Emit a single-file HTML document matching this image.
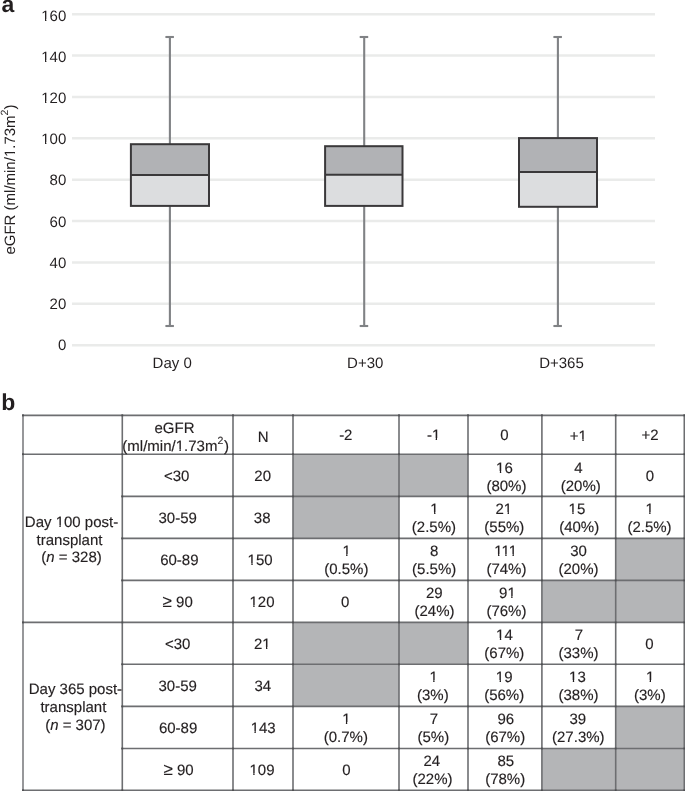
<!DOCTYPE html>
<html><head><meta charset="utf-8"><style>
html,body{margin:0;padding:0;background:#fff;}
svg{display:block;will-change:transform;text-rendering:geometricPrecision;}
text{font-family:"Liberation Sans",sans-serif;fill:#231f20;}
.tb text{stroke:#231f20;stroke-width:0.15px;}
</style></head><body>
<svg width="685" height="791" viewBox="0 0 685 791">
<rect width="685" height="791" fill="#fff"/>
<text x="1.5" y="11.8" font-size="23" font-weight="bold">a</text>
<line x1="72" y1="14.20" x2="655" y2="14.20" stroke="#eaebea" stroke-width="2.5"/>
<text x="66.3" y="20.55" font-size="15" text-anchor="end">160</text><rect x="42.00" y="19.00" width="3.02" height="3.00" fill="#fff"/><rect x="46.39" y="19.00" width="2.61" height="3.00" fill="#fff"/>
<line x1="72" y1="55.58" x2="655" y2="55.58" stroke="#eaebea" stroke-width="2.5"/>
<text x="66.3" y="61.78" font-size="15" text-anchor="end">140</text><rect x="42.00" y="60.00" width="3.02" height="3.00" fill="#fff"/><rect x="46.39" y="60.00" width="2.61" height="3.00" fill="#fff"/>
<line x1="72" y1="96.95" x2="655" y2="96.95" stroke="#eaebea" stroke-width="2.5"/>
<text x="66.3" y="103.00" font-size="15" text-anchor="end">120</text><rect x="42.00" y="101.00" width="3.02" height="3.00" fill="#fff"/><rect x="46.39" y="101.00" width="2.61" height="3.00" fill="#fff"/>
<line x1="72" y1="138.32" x2="655" y2="138.32" stroke="#eaebea" stroke-width="2.5"/>
<text x="66.3" y="144.23" font-size="15" text-anchor="end">100</text><rect x="42.00" y="142.00" width="3.02" height="3.00" fill="#fff"/><rect x="46.39" y="142.00" width="2.61" height="3.00" fill="#fff"/>
<line x1="72" y1="179.70" x2="655" y2="179.70" stroke="#eaebea" stroke-width="2.5"/>
<text x="66.3" y="185.45" font-size="15" text-anchor="end">80</text>
<line x1="72" y1="221.07" x2="655" y2="221.07" stroke="#eaebea" stroke-width="2.5"/>
<text x="66.3" y="226.68" font-size="15" text-anchor="end">60</text>
<line x1="72" y1="262.45" x2="655" y2="262.45" stroke="#eaebea" stroke-width="2.5"/>
<text x="66.3" y="267.90" font-size="15" text-anchor="end">40</text>
<line x1="72" y1="303.82" x2="655" y2="303.82" stroke="#eaebea" stroke-width="2.5"/>
<text x="66.3" y="309.12" font-size="15" text-anchor="end">20</text>
<line x1="72" y1="345.20" x2="655" y2="345.20" stroke="#eaebea" stroke-width="2.5"/>
<text x="66.3" y="350.35" font-size="15" text-anchor="end">0</text>
<g transform="translate(15.2,179.6) rotate(-90)"><text x="0" y="0" font-size="15" text-anchor="middle">eGFR (ml/min/1.73m<tspan font-size="10.5" dy="-7.3">2</tspan><tspan dy="7.3">)</tspan></text><rect x="23.00" y="-2.00" width="3.23" height="3.00" fill="#fff"/><rect x="27.59" y="-2.00" width="3.41" height="3.00" fill="#fff"/></g>
<line x1="169.9" y1="37" x2="169.9" y2="144.2" stroke="#808285" stroke-width="2.1"/>
<line x1="169.9" y1="205.9" x2="169.9" y2="326" stroke="#808285" stroke-width="2.1"/>
<line x1="165.4" y1="37" x2="173.9" y2="37" stroke="#808285" stroke-width="2.1"/>
<line x1="165.4" y1="326" x2="173.9" y2="326" stroke="#808285" stroke-width="2.1"/>
<rect x="130.9" y="144.2" width="78.10" height="30.90" fill="#b1b2b5"/>
<rect x="130.9" y="175.1" width="78.10" height="30.80" fill="#dcdddf"/>
<rect x="130.9" y="144.2" width="78.10" height="61.70" fill="none" stroke="#3a383a" stroke-width="2"/>
<line x1="130.9" y1="175.1" x2="209.0" y2="175.1" stroke="#3a383a" stroke-width="2"/>
<line x1="364.2" y1="37" x2="364.2" y2="146.2" stroke="#808285" stroke-width="2.1"/>
<line x1="364.2" y1="205.9" x2="364.2" y2="326" stroke="#808285" stroke-width="2.1"/>
<line x1="359.7" y1="37" x2="368.2" y2="37" stroke="#808285" stroke-width="2.1"/>
<line x1="359.7" y1="326" x2="368.2" y2="326" stroke="#808285" stroke-width="2.1"/>
<rect x="325.1" y="146.2" width="77.40" height="28.50" fill="#b1b2b5"/>
<rect x="325.1" y="174.7" width="77.40" height="31.20" fill="#dcdddf"/>
<rect x="325.1" y="146.2" width="77.40" height="59.70" fill="none" stroke="#3a383a" stroke-width="2"/>
<line x1="325.1" y1="174.7" x2="402.5" y2="174.7" stroke="#3a383a" stroke-width="2"/>
<line x1="557.9" y1="37" x2="557.9" y2="138.1" stroke="#808285" stroke-width="2.1"/>
<line x1="557.9" y1="206.8" x2="557.9" y2="326" stroke="#808285" stroke-width="2.1"/>
<line x1="553.4" y1="37" x2="561.9" y2="37" stroke="#808285" stroke-width="2.1"/>
<line x1="553.4" y1="326" x2="561.9" y2="326" stroke="#808285" stroke-width="2.1"/>
<rect x="519.0" y="138.1" width="78.00" height="33.80" fill="#b1b2b5"/>
<rect x="519.0" y="171.9" width="78.00" height="34.90" fill="#dcdddf"/>
<rect x="519.0" y="138.1" width="78.00" height="68.70" fill="none" stroke="#3a383a" stroke-width="2"/>
<line x1="519.0" y1="171.9" x2="597.0" y2="171.9" stroke="#3a383a" stroke-width="2"/>
<text x="172.2" y="367.5" font-size="15" text-anchor="middle">Day 0</text>
<text x="365.2" y="367.5" font-size="15" text-anchor="middle">D+30</text>
<text x="561.5" y="367.5" font-size="15" text-anchor="middle">D+365</text>
<text x="1.3" y="410.3" font-size="23" font-weight="bold">b</text>
<rect x="293.0" y="454.2" width="106.00" height="42.20" fill="#b4b5b7"/>
<rect x="399.0" y="454.2" width="69.00" height="42.20" fill="#b4b5b7"/>
<rect x="293.0" y="496.4" width="106.00" height="42.00" fill="#b4b5b7"/>
<rect x="615.7" y="538.4" width="68.60" height="42.00" fill="#b4b5b7"/>
<rect x="541.9" y="580.4" width="73.80" height="42.00" fill="#b4b5b7"/>
<rect x="615.7" y="580.4" width="68.60" height="42.00" fill="#b4b5b7"/>
<rect x="293.0" y="622.4" width="106.00" height="41.90" fill="#b4b5b7"/>
<rect x="399.0" y="622.4" width="69.00" height="41.90" fill="#b4b5b7"/>
<rect x="293.0" y="664.3" width="106.00" height="42.10" fill="#b4b5b7"/>
<rect x="615.7" y="706.4" width="68.60" height="42.10" fill="#b4b5b7"/>
<rect x="541.9" y="748.5" width="73.80" height="41.80" fill="#b4b5b7"/>
<rect x="615.7" y="748.5" width="68.60" height="41.80" fill="#b4b5b7"/>
<line x1="23.0" y1="414.59999999999997" x2="23.0" y2="791.0999999999999" stroke="#7d7e81" stroke-width="1.6"/>
<line x1="122.3" y1="414.59999999999997" x2="122.3" y2="791.0999999999999" stroke="#6d6e71" stroke-width="1.6"/>
<line x1="233.0" y1="414.59999999999997" x2="233.0" y2="791.0999999999999" stroke="#6d6e71" stroke-width="1.6"/>
<line x1="293.0" y1="414.59999999999997" x2="293.0" y2="791.0999999999999" stroke="#6d6e71" stroke-width="1.6"/>
<line x1="399.0" y1="414.59999999999997" x2="399.0" y2="791.0999999999999" stroke="#6d6e71" stroke-width="1.6"/>
<line x1="468.0" y1="414.59999999999997" x2="468.0" y2="791.0999999999999" stroke="#6d6e71" stroke-width="1.6"/>
<line x1="541.9" y1="414.59999999999997" x2="541.9" y2="791.0999999999999" stroke="#6d6e71" stroke-width="1.6"/>
<line x1="615.7" y1="414.59999999999997" x2="615.7" y2="791.0999999999999" stroke="#6d6e71" stroke-width="1.6"/>
<line x1="684.3" y1="414.59999999999997" x2="684.3" y2="791.0999999999999" stroke="#6d6e71" stroke-width="1.6"/>
<line x1="22.1" y1="415.4" x2="685.1999999999999" y2="415.4" stroke="#6d6e71" stroke-width="1.6"/>
<rect x="22.1" y="414.5" width="1.8" height="1.8" fill="#4e4f52"/>
<rect x="121.39999999999999" y="414.5" width="1.8" height="1.8" fill="#4e4f52"/>
<rect x="232.1" y="414.5" width="1.8" height="1.8" fill="#4e4f52"/>
<rect x="292.1" y="414.5" width="1.8" height="1.8" fill="#4e4f52"/>
<rect x="398.1" y="414.5" width="1.8" height="1.8" fill="#4e4f52"/>
<rect x="467.1" y="414.5" width="1.8" height="1.8" fill="#4e4f52"/>
<rect x="541.0" y="414.5" width="1.8" height="1.8" fill="#4e4f52"/>
<rect x="614.8000000000001" y="414.5" width="1.8" height="1.8" fill="#4e4f52"/>
<rect x="683.4" y="414.5" width="1.8" height="1.8" fill="#4e4f52"/>
<line x1="22.1" y1="454.2" x2="685.1999999999999" y2="454.2" stroke="#6d6e71" stroke-width="1.6"/>
<rect x="22.1" y="453.3" width="1.8" height="1.8" fill="#4e4f52"/>
<rect x="121.39999999999999" y="453.3" width="1.8" height="1.8" fill="#4e4f52"/>
<rect x="232.1" y="453.3" width="1.8" height="1.8" fill="#4e4f52"/>
<rect x="292.1" y="453.3" width="1.8" height="1.8" fill="#4e4f52"/>
<rect x="398.1" y="453.3" width="1.8" height="1.8" fill="#4e4f52"/>
<rect x="467.1" y="453.3" width="1.8" height="1.8" fill="#4e4f52"/>
<rect x="541.0" y="453.3" width="1.8" height="1.8" fill="#4e4f52"/>
<rect x="614.8000000000001" y="453.3" width="1.8" height="1.8" fill="#4e4f52"/>
<rect x="683.4" y="453.3" width="1.8" height="1.8" fill="#4e4f52"/>
<line x1="121.39999999999999" y1="496.4" x2="685.1999999999999" y2="496.4" stroke="#6d6e71" stroke-width="1.6"/>
<rect x="121.39999999999999" y="495.5" width="1.8" height="1.8" fill="#4e4f52"/>
<rect x="232.1" y="495.5" width="1.8" height="1.8" fill="#4e4f52"/>
<rect x="292.1" y="495.5" width="1.8" height="1.8" fill="#4e4f52"/>
<rect x="398.1" y="495.5" width="1.8" height="1.8" fill="#4e4f52"/>
<rect x="467.1" y="495.5" width="1.8" height="1.8" fill="#4e4f52"/>
<rect x="541.0" y="495.5" width="1.8" height="1.8" fill="#4e4f52"/>
<rect x="614.8000000000001" y="495.5" width="1.8" height="1.8" fill="#4e4f52"/>
<rect x="683.4" y="495.5" width="1.8" height="1.8" fill="#4e4f52"/>
<line x1="121.39999999999999" y1="538.4" x2="685.1999999999999" y2="538.4" stroke="#6d6e71" stroke-width="1.6"/>
<rect x="121.39999999999999" y="537.5" width="1.8" height="1.8" fill="#4e4f52"/>
<rect x="232.1" y="537.5" width="1.8" height="1.8" fill="#4e4f52"/>
<rect x="292.1" y="537.5" width="1.8" height="1.8" fill="#4e4f52"/>
<rect x="398.1" y="537.5" width="1.8" height="1.8" fill="#4e4f52"/>
<rect x="467.1" y="537.5" width="1.8" height="1.8" fill="#4e4f52"/>
<rect x="541.0" y="537.5" width="1.8" height="1.8" fill="#4e4f52"/>
<rect x="614.8000000000001" y="537.5" width="1.8" height="1.8" fill="#4e4f52"/>
<rect x="683.4" y="537.5" width="1.8" height="1.8" fill="#4e4f52"/>
<line x1="121.39999999999999" y1="580.4" x2="685.1999999999999" y2="580.4" stroke="#6d6e71" stroke-width="1.6"/>
<rect x="121.39999999999999" y="579.5" width="1.8" height="1.8" fill="#4e4f52"/>
<rect x="232.1" y="579.5" width="1.8" height="1.8" fill="#4e4f52"/>
<rect x="292.1" y="579.5" width="1.8" height="1.8" fill="#4e4f52"/>
<rect x="398.1" y="579.5" width="1.8" height="1.8" fill="#4e4f52"/>
<rect x="467.1" y="579.5" width="1.8" height="1.8" fill="#4e4f52"/>
<rect x="541.0" y="579.5" width="1.8" height="1.8" fill="#4e4f52"/>
<rect x="614.8000000000001" y="579.5" width="1.8" height="1.8" fill="#4e4f52"/>
<rect x="683.4" y="579.5" width="1.8" height="1.8" fill="#4e4f52"/>
<line x1="22.1" y1="622.4" x2="685.1999999999999" y2="622.4" stroke="#6d6e71" stroke-width="1.6"/>
<rect x="22.1" y="621.5" width="1.8" height="1.8" fill="#4e4f52"/>
<rect x="121.39999999999999" y="621.5" width="1.8" height="1.8" fill="#4e4f52"/>
<rect x="232.1" y="621.5" width="1.8" height="1.8" fill="#4e4f52"/>
<rect x="292.1" y="621.5" width="1.8" height="1.8" fill="#4e4f52"/>
<rect x="398.1" y="621.5" width="1.8" height="1.8" fill="#4e4f52"/>
<rect x="467.1" y="621.5" width="1.8" height="1.8" fill="#4e4f52"/>
<rect x="541.0" y="621.5" width="1.8" height="1.8" fill="#4e4f52"/>
<rect x="614.8000000000001" y="621.5" width="1.8" height="1.8" fill="#4e4f52"/>
<rect x="683.4" y="621.5" width="1.8" height="1.8" fill="#4e4f52"/>
<line x1="121.39999999999999" y1="664.3" x2="685.1999999999999" y2="664.3" stroke="#6d6e71" stroke-width="1.6"/>
<rect x="121.39999999999999" y="663.4" width="1.8" height="1.8" fill="#4e4f52"/>
<rect x="232.1" y="663.4" width="1.8" height="1.8" fill="#4e4f52"/>
<rect x="292.1" y="663.4" width="1.8" height="1.8" fill="#4e4f52"/>
<rect x="398.1" y="663.4" width="1.8" height="1.8" fill="#4e4f52"/>
<rect x="467.1" y="663.4" width="1.8" height="1.8" fill="#4e4f52"/>
<rect x="541.0" y="663.4" width="1.8" height="1.8" fill="#4e4f52"/>
<rect x="614.8000000000001" y="663.4" width="1.8" height="1.8" fill="#4e4f52"/>
<rect x="683.4" y="663.4" width="1.8" height="1.8" fill="#4e4f52"/>
<line x1="121.39999999999999" y1="706.4" x2="685.1999999999999" y2="706.4" stroke="#6d6e71" stroke-width="1.6"/>
<rect x="121.39999999999999" y="705.5" width="1.8" height="1.8" fill="#4e4f52"/>
<rect x="232.1" y="705.5" width="1.8" height="1.8" fill="#4e4f52"/>
<rect x="292.1" y="705.5" width="1.8" height="1.8" fill="#4e4f52"/>
<rect x="398.1" y="705.5" width="1.8" height="1.8" fill="#4e4f52"/>
<rect x="467.1" y="705.5" width="1.8" height="1.8" fill="#4e4f52"/>
<rect x="541.0" y="705.5" width="1.8" height="1.8" fill="#4e4f52"/>
<rect x="614.8000000000001" y="705.5" width="1.8" height="1.8" fill="#4e4f52"/>
<rect x="683.4" y="705.5" width="1.8" height="1.8" fill="#4e4f52"/>
<line x1="121.39999999999999" y1="748.5" x2="685.1999999999999" y2="748.5" stroke="#6d6e71" stroke-width="1.6"/>
<rect x="121.39999999999999" y="747.6" width="1.8" height="1.8" fill="#4e4f52"/>
<rect x="232.1" y="747.6" width="1.8" height="1.8" fill="#4e4f52"/>
<rect x="292.1" y="747.6" width="1.8" height="1.8" fill="#4e4f52"/>
<rect x="398.1" y="747.6" width="1.8" height="1.8" fill="#4e4f52"/>
<rect x="467.1" y="747.6" width="1.8" height="1.8" fill="#4e4f52"/>
<rect x="541.0" y="747.6" width="1.8" height="1.8" fill="#4e4f52"/>
<rect x="614.8000000000001" y="747.6" width="1.8" height="1.8" fill="#4e4f52"/>
<rect x="683.4" y="747.6" width="1.8" height="1.8" fill="#4e4f52"/>
<line x1="22.1" y1="790.3" x2="685.1999999999999" y2="790.3" stroke="#6d6e71" stroke-width="1.6"/>
<rect x="22.1" y="789.4" width="1.8" height="1.8" fill="#4e4f52"/>
<rect x="121.39999999999999" y="789.4" width="1.8" height="1.8" fill="#4e4f52"/>
<rect x="232.1" y="789.4" width="1.8" height="1.8" fill="#4e4f52"/>
<rect x="292.1" y="789.4" width="1.8" height="1.8" fill="#4e4f52"/>
<rect x="398.1" y="789.4" width="1.8" height="1.8" fill="#4e4f52"/>
<rect x="467.1" y="789.4" width="1.8" height="1.8" fill="#4e4f52"/>
<rect x="541.0" y="789.4" width="1.8" height="1.8" fill="#4e4f52"/>
<rect x="614.8000000000001" y="789.4" width="1.8" height="1.8" fill="#4e4f52"/>
<rect x="683.4" y="789.4" width="1.8" height="1.8" fill="#4e4f52"/>
<g class="tb">
<text x="174.5" y="432.9" font-size="15" text-anchor="middle">eGFR</text>
<text x="175.7" y="450.6" font-size="15" text-anchor="middle">(ml/min/1.73m<tspan font-size="10.5" dy="-7">2</tspan><tspan dy="7" dx="0.8">)</tspan></text><rect x="176.00" y="449.00" width="3.43" height="3.00" fill="#fff"/><rect x="180.79" y="449.00" width="3.21" height="3.00" fill="#fff"/>
<text x="263.1" y="441.6" font-size="15" text-anchor="middle">N</text>
<text x="345.8" y="440.2" font-size="15" text-anchor="middle">-2</text>
<text x="433.6" y="440.3" font-size="15" text-anchor="middle">-1</text><rect x="432.00" y="438.00" width="3.66" height="3.00" fill="#fff"/><rect x="437.03" y="438.00" width="2.97" height="3.00" fill="#fff"/>
<text x="504.3" y="439.8" font-size="15" text-anchor="middle">0</text>
<text x="578.4" y="440.6" font-size="15" text-anchor="middle">+1</text><rect x="579.00" y="439.00" width="3.35" height="3.00" fill="#fff"/><rect x="583.71" y="439.00" width="3.29" height="3.00" fill="#fff"/>
<text x="650.0" y="439.8" font-size="15" text-anchor="middle">+2</text>
<text x="176.65" y="481.10" font-size="15" text-anchor="middle"><30</text>
<text x="262.7" y="481.10" font-size="15" text-anchor="middle">20</text>
<text x="504.45" y="472.70" font-size="15" text-anchor="middle">16</text><rect x="497.00" y="471.00" width="2.86" height="3.00" fill="#fff"/><rect x="501.22" y="471.00" width="2.78" height="3.00" fill="#fff"/>
<text x="506.45" y="490.60" font-size="15" text-anchor="middle">(80%)</text>
<text x="578.3" y="472.70" font-size="15" text-anchor="middle">4</text>
<text x="580.8" y="490.60" font-size="15" text-anchor="middle">(20%)</text>
<text x="649.8" y="481.10" font-size="15" text-anchor="middle">0</text>
<text x="177.65" y="523.20" font-size="15" text-anchor="middle">30-59</text>
<text x="262.2" y="523.20" font-size="15" text-anchor="middle">38</text>
<text x="434.5" y="514.30" font-size="15" text-anchor="middle">1</text><rect x="431.00" y="512.00" width="3.08" height="3.00" fill="#fff"/><rect x="435.45" y="512.00" width="3.55" height="3.00" fill="#fff"/>
<text x="433.9" y="532.20" font-size="15" text-anchor="middle">(2.5%)</text>
<text x="503.84999999999997" y="514.30" font-size="15" text-anchor="middle">21</text><rect x="504.00" y="512.00" width="3.59" height="3.00" fill="#fff"/><rect x="508.95" y="512.00" width="3.05" height="3.00" fill="#fff"/>
<text x="504.34999999999997" y="532.20" font-size="15" text-anchor="middle">(55%)</text>
<text x="576.9" y="514.30" font-size="15" text-anchor="middle">15</text><rect x="569.00" y="512.00" width="3.31" height="3.00" fill="#fff"/><rect x="573.67" y="512.00" width="3.33" height="3.00" fill="#fff"/>
<text x="579.1999999999999" y="532.20" font-size="15" text-anchor="middle">(40%)</text>
<text x="649.6" y="514.30" font-size="15" text-anchor="middle">1</text><rect x="646.00" y="512.00" width="3.18" height="3.00" fill="#fff"/><rect x="650.55" y="512.00" width="3.45" height="3.00" fill="#fff"/>
<text x="649.5" y="532.20" font-size="15" text-anchor="middle">(2.5%)</text>
<text x="179.35" y="565.20" font-size="15" text-anchor="middle">60-89</text>
<text x="260.1" y="565.20" font-size="15" text-anchor="middle">150</text><rect x="248.00" y="563.00" width="3.34" height="3.00" fill="#fff"/><rect x="252.70" y="563.00" width="3.30" height="3.00" fill="#fff"/>
<text x="346.55" y="556.30" font-size="15" text-anchor="middle">1</text><rect x="343.00" y="554.00" width="3.13" height="3.00" fill="#fff"/><rect x="347.50" y="554.00" width="3.50" height="3.00" fill="#fff"/>
<text x="346.35" y="574.20" font-size="15" text-anchor="middle">(0.5%)</text>
<text x="434.15" y="556.30" font-size="15" text-anchor="middle">8</text>
<text x="434.15" y="574.20" font-size="15" text-anchor="middle">(5.5%)</text>
<text x="505.7" y="556.30" font-size="15" text-anchor="middle">111</text><rect x="495.00" y="554.00" width="3.05" height="3.00" fill="#fff"/><rect x="499.41" y="554.00" width="3.59" height="3.00" fill="#fff"/><rect x="502.00" y="554.00" width="3.26" height="3.00" fill="#fff"/><rect x="506.63" y="554.00" width="3.37" height="3.00" fill="#fff"/><rect x="509.00" y="554.00" width="3.50" height="3.00" fill="#fff"/><rect x="513.86" y="554.00" width="3.14" height="3.00" fill="#fff"/>
<text x="506.45" y="574.20" font-size="15" text-anchor="middle">(74%)</text>
<text x="578.5" y="556.30" font-size="15" text-anchor="middle">30</text>
<text x="578.5" y="574.20" font-size="15" text-anchor="middle">(20%)</text>
<text x="177.65" y="607.20" font-size="15" text-anchor="middle"><tspan font-size="17">≥</tspan> 90</text>
<text x="262.0" y="607.20" font-size="15" text-anchor="middle">120</text><rect x="250.00" y="605.00" width="3.24" height="3.00" fill="#fff"/><rect x="254.60" y="605.00" width="3.40" height="3.00" fill="#fff"/>
<text x="345.15" y="607.20" font-size="15" text-anchor="middle">0</text>
<text x="434.25" y="598.30" font-size="15" text-anchor="middle">29</text>
<text x="434.5" y="616.20" font-size="15" text-anchor="middle">(24%)</text>
<text x="507.45" y="598.30" font-size="15" text-anchor="middle">91</text><rect x="508.00" y="596.00" width="3.19" height="3.00" fill="#fff"/><rect x="512.55" y="596.00" width="3.45" height="3.00" fill="#fff"/>
<text x="506.45" y="616.20" font-size="15" text-anchor="middle">(76%)</text>
<text x="177.65" y="649.15" font-size="15" text-anchor="middle"><30</text>
<text x="262.25" y="649.15" font-size="15" text-anchor="middle">21</text><rect x="263.00" y="647.00" width="2.99" height="3.00" fill="#fff"/><rect x="267.35" y="647.00" width="2.65" height="3.00" fill="#fff"/>
<text x="504.45" y="640.25" font-size="15" text-anchor="middle">14</text><rect x="497.00" y="638.00" width="2.86" height="3.00" fill="#fff"/><rect x="501.22" y="638.00" width="2.78" height="3.00" fill="#fff"/>
<text x="504.34999999999997" y="658.15" font-size="15" text-anchor="middle">(67%)</text>
<text x="578.8" y="640.25" font-size="15" text-anchor="middle">7</text>
<text x="578.5" y="658.15" font-size="15" text-anchor="middle">(33%)</text>
<text x="649.4" y="649.15" font-size="15" text-anchor="middle">0</text>
<text x="177.65" y="691.15" font-size="15" text-anchor="middle">30-59</text>
<text x="262.8" y="691.15" font-size="15" text-anchor="middle">34</text>
<text x="433.6" y="682.25" font-size="15" text-anchor="middle">1</text><rect x="430.00" y="680.00" width="3.18" height="3.00" fill="#fff"/><rect x="434.55" y="680.00" width="3.45" height="3.00" fill="#fff"/>
<text x="432.85" y="700.15" font-size="15" text-anchor="middle">(3%)</text>
<text x="504.2" y="682.25" font-size="15" text-anchor="middle">19</text><rect x="496.00" y="680.00" width="3.61" height="3.00" fill="#fff"/><rect x="500.97" y="680.00" width="3.03" height="3.00" fill="#fff"/>
<text x="504.15" y="700.15" font-size="15" text-anchor="middle">(56%)</text>
<text x="577.4" y="682.25" font-size="15" text-anchor="middle">13</text><rect x="570.00" y="680.00" width="2.81" height="3.00" fill="#fff"/><rect x="574.17" y="680.00" width="2.83" height="3.00" fill="#fff"/>
<text x="578.5" y="700.15" font-size="15" text-anchor="middle">(38%)</text>
<text x="650.05" y="682.25" font-size="15" text-anchor="middle">1</text><rect x="646.00" y="680.00" width="3.63" height="3.00" fill="#fff"/><rect x="651.00" y="680.00" width="3.00" height="3.00" fill="#fff"/>
<text x="649.85" y="700.15" font-size="15" text-anchor="middle">(3%)</text>
<text x="178.1" y="733.25" font-size="15" text-anchor="middle">60-89</text>
<text x="263.2" y="733.25" font-size="15" text-anchor="middle">143</text><rect x="251.00" y="731.00" width="3.44" height="3.00" fill="#fff"/><rect x="255.80" y="731.00" width="3.20" height="3.00" fill="#fff"/>
<text x="346.3" y="724.35" font-size="15" text-anchor="middle">1</text><rect x="343.00" y="722.00" width="2.88" height="3.00" fill="#fff"/><rect x="347.25" y="722.00" width="2.75" height="3.00" fill="#fff"/>
<text x="345.8" y="742.25" font-size="15" text-anchor="middle">(0.7%)</text>
<text x="433.9" y="724.35" font-size="15" text-anchor="middle">7</text>
<text x="433.3" y="742.25" font-size="15" text-anchor="middle">(5%)</text>
<text x="505.8" y="724.35" font-size="15" text-anchor="middle">96</text>
<text x="505.15" y="742.25" font-size="15" text-anchor="middle">(67%)</text>
<text x="577.8" y="724.35" font-size="15" text-anchor="middle">39</text>
<text x="578.3" y="742.25" font-size="15" text-anchor="middle">(27.3%)</text>
<text x="178.6" y="775.20" font-size="15" text-anchor="middle"><tspan font-size="17">≥</tspan> 90</text>
<text x="262.0" y="775.20" font-size="15" text-anchor="middle">109</text><rect x="250.00" y="773.00" width="3.24" height="3.00" fill="#fff"/><rect x="254.60" y="773.00" width="3.40" height="3.00" fill="#fff"/>
<text x="346.35" y="775.20" font-size="15" text-anchor="middle">0</text>
<text x="431.85" y="766.30" font-size="15" text-anchor="middle">24</text>
<text x="432.5" y="784.20" font-size="15" text-anchor="middle">(22%)</text>
<text x="505.8" y="766.30" font-size="15" text-anchor="middle">85</text>
<text x="505.15" y="784.20" font-size="15" text-anchor="middle">(78%)</text>
<text x="71.5" y="526.90" font-size="15" text-anchor="middle">Day 100 post-</text><rect x="56.00" y="525.00" width="3.38" height="3.00" fill="#fff"/><rect x="60.75" y="525.00" width="3.25" height="3.00" fill="#fff"/>
<text x="69.5" y="544.50" font-size="15" text-anchor="middle">transplant</text>
<text x="71.5" y="562.00" font-size="15" text-anchor="middle">(<tspan font-style="italic">n</tspan> = 328)</text>
<text x="75.4" y="693.60" font-size="15" text-anchor="middle">Day 365 post-</text>
<text x="73.4" y="711.70" font-size="15" text-anchor="middle">transplant</text>
<text x="75.4" y="729.90" font-size="15" text-anchor="middle">(<tspan font-style="italic">n</tspan> = 307)</text>
</g>
</svg>
</body></html>
